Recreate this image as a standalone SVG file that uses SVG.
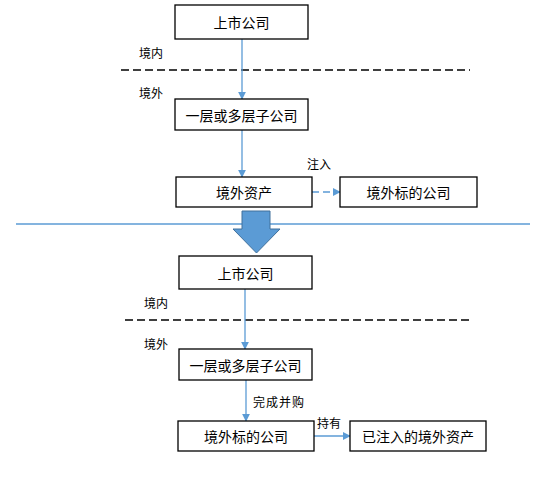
<svg xmlns="http://www.w3.org/2000/svg" width="554" height="477" viewBox="0 0 554 477">
<style>
.box{fill:#fff;stroke:#000;stroke-width:1.3}
.t{font-family:"Noto Sans CJK SC","Liberation Sans",sans-serif;font-size:14px;fill:#000;text-anchor:middle;dominant-baseline:central}
.l{font-family:"Noto Sans CJK SC","Liberation Sans",sans-serif;font-size:12px;fill:#000;dominant-baseline:central}
.c{stroke:#5B9BD5;stroke-width:1.3;fill:none}
.d{stroke:#000;stroke-width:1.3;stroke-dasharray:8,4;fill:none}
</style>
<defs>
<marker id="ah" viewBox="0 0 10 10" refX="9" refY="5" markerWidth="8" markerHeight="8" markerUnits="userSpaceOnUse" orient="auto">
<path d="M0,0 L10,5 L0,10 z" fill="#5B9BD5"/>
</marker>
</defs>
<rect width="554" height="477" fill="#fff"/>
<g id="dividers">
<line class="d" x1="121" y1="70" x2="470" y2="70"/>
<line class="d" x1="125" y1="320" x2="473" y2="320"/>
<line x1="16" y1="224" x2="530" y2="224" stroke="#5B9BD5" stroke-width="1.3"/>
</g>
<g id="connectors">
<line class="c" x1="242" y1="39" x2="242" y2="99" marker-end="url(#ah)"/>
<line class="c" x1="242" y1="130" x2="242" y2="177" marker-end="url(#ah)"/>
<line class="c" x1="312" y1="192" x2="340" y2="192" stroke-dasharray="7,4" marker-end="url(#ah)"/>
<line class="c" x1="245" y1="289" x2="245" y2="349" marker-end="url(#ah)"/>
<line class="c" x1="246" y1="380" x2="246" y2="421" marker-end="url(#ah)"/>
<line class="c" x1="314" y1="436" x2="350" y2="436" marker-end="url(#ah)"/>
</g>
<g id="big-arrow">
<path d="M242,211 L270,211 L270,229 L280,229 L256.5,253 L233,229 L242,229 z" fill="#5B9BD5" stroke="#41719C" stroke-width="1"/>
</g>
<g id="labels">
<text class="l" x="139" y="52">境内</text>
<text class="l" x="139" y="92">境外</text>
<text class="l" x="307" y="163">注入</text>
<text class="l" x="144" y="302">境内</text>
<text class="l" x="144" y="343">境外</text>
<text class="l" x="253" y="401" letter-spacing="1">完成并购</text>
<text class="l" x="317" y="422">持有</text>
</g>
<g id="n1"><rect class="box" x="175" y="5" width="133" height="34"/><text class="t" x="241.5" y="22">上市公司</text></g>
<g id="n2"><rect class="box" x="175" y="99" width="133" height="31"/><text class="t" x="241.5" y="114.5">一层或多层子公司</text></g>
<g id="n3"><rect class="box" x="176" y="177" width="136" height="30"/><text class="t" x="244" y="192">境外资产</text></g>
<g id="n4"><rect class="box" x="340" y="177" width="137" height="30"/><text class="t" x="408.5" y="192">境外标的公司</text></g>
<g id="n5"><rect class="box" x="179" y="256" width="133" height="33"/><text class="t" x="245.5" y="272.5">上市公司</text></g>
<g id="n6"><rect class="box" x="179" y="349" width="133" height="31"/><text class="t" x="245.5" y="364.5">一层或多层子公司</text></g>
<g id="n7"><rect class="box" x="178" y="421" width="136" height="30"/><text class="t" x="246" y="436">境外标的公司</text></g>
<g id="n8"><rect class="box" x="350" y="421" width="136" height="30"/><text class="t" x="418" y="436">已注入的境外资产</text></g>
</svg>
